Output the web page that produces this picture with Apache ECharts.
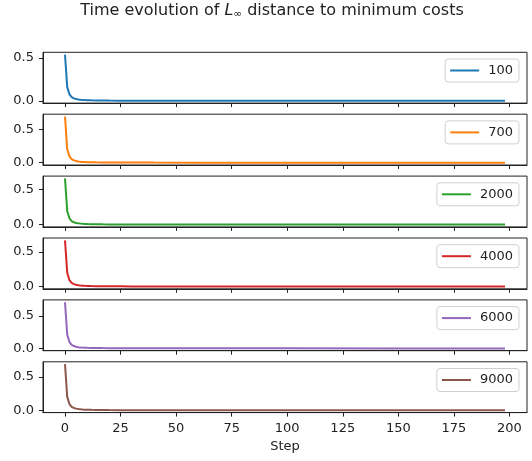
<!DOCTYPE html>
<html>
<head>
<meta charset="utf-8">
<script src="https://cdn.jsdelivr.net/npm/echarts@6/dist/echarts.min.js"></script>
<style>html,body{margin:0;padding:0;background:#fff}#c{width:532px;height:461px}</style>
</head>
<body>
<div id="c"></div>
<script>
// Data
const steps = [0,1,2,3,4,5,6,7,8,9,10,12,14,17,20,25,30,40,60,100,150,198];
const seriesNames = ['100','700','2000','4000','6000','9000'];
const s100  = [0.54,0.16,0.075,0.042,0.028,0.02,0.015,0.012,0.01,0.008,0.007,0.0055,0.0045,0.0035,0.0028,0.002,0.0015,0.001,0.0007,0.0004,0.0003,0.0002];
const s700  = [0.69,0.2,0.095,0.053,0.035,0.025,0.019,0.015,0.012,0.01,0.0085,0.0068,0.0055,0.0042,0.0033,0.0024,0.0018,0.0012,0.0008,0.0005,0.0003,0.0002];
const s2000 = [0.66,0.19,0.09,0.05,0.033,0.024,0.018,0.014,0.011,0.0095,0.008,0.0064,0.0052,0.004,0.0031,0.0023,0.0017,0.0011,0.0007,0.0004,0.0003,0.0002];
const s4000 = [0.67,0.2,0.092,0.052,0.034,0.024,0.018,0.014,0.012,0.0098,0.0083,0.0066,0.0053,0.0041,0.0032,0.0023,0.0017,0.0011,0.0007,0.0004,0.0003,0.0002];
const s6000 = [0.71,0.21,0.098,0.055,0.036,0.026,0.019,0.015,0.012,0.01,0.0088,0.007,0.0056,0.0043,0.0034,0.0025,0.0018,0.0012,0.0008,0.0005,0.0003,0.0002];
const s9000 = [0.69,0.2,0.094,0.053,0.035,0.025,0.019,0.015,0.012,0.01,0.0085,0.0068,0.0055,0.0042,0.0033,0.0024,0.0018,0.0012,0.0008,0.0005,0.0003,0.0002];
const xTicks = [0,25,50,75,100,125,150,175,200];
const yTicks = [0,0.5];

const allSeries = [s100,s700,s2000,s4000,s6000,s9000];
const colors = ['#1f77b4','#ff7f0e','#2ca02c','#d62728','#9467bd','#8c564b'];
const FONT = 'DejaVu Sans';
const TXT = '#222';
const FS = 13;
const panelTop0 = 52.3, panelStep = 61.9, panelH = 50.8;
const xMin = -9.9, xMax = 207.9;

const grids = [], xAxes = [], yAxes = [], series = [], legends = [];
allSeries.forEach((vals, i) => {
  const top = panelTop0 + i * panelStep;
  grids.push({left: 43, right: 5, top: top, height: panelH, show: true,
    borderColor: '#222', borderWidth: 1, backgroundColor: 'transparent', containLabel: false});
  const last = i === allSeries.length - 1;
  xAxes.push({type: 'value', gridIndex: i, min: xMin, max: xMax,
    axisLine: {show: true, onZero: false, lineStyle: {color: '#222', width: 1}}, splitLine: {show: false},
    axisTick: {show: true, length: 4, lineStyle: {color: '#222', width: 1}, customValues: xTicks},
    axisLabel: {show: last, customValues: xTicks, color: TXT, fontFamily: FONT, fontSize: FS, margin: 10},
    name: last ? 'Step' : '', nameLocation: 'middle', nameGap: 28,
    nameTextStyle: {color: TXT, fontFamily: FONT, fontSize: FS}});
  const m = Math.max(...vals), lo = Math.min(...vals);
  const pad = 0.05 * (m - lo);
  yAxes.push({type: 'value', gridIndex: i, min: lo - pad, max: m + pad,
    axisLine: {show: true, onZero: false, lineStyle: {color: '#222', width: 1}}, splitLine: {show: false},
    axisTick: {show: true, length: 4, lineStyle: {color: '#222', width: 1}, customValues: yTicks},
    axisLabel: {customValues: yTicks, color: TXT, fontFamily: FONT, fontSize: FS, margin: 9,
      formatter: v => Number(v).toFixed(1)}});
  series.push({type: 'line', name: seriesNames[i], xAxisIndex: i, yAxisIndex: i,
    data: steps.map((s, k) => [s, vals[k]]), showSymbol: false, symbol: 'none',
    lineStyle: {color: colors[i], width: 2}, itemStyle: {color: colors[i]}, animation: false, clip: true});
  legends.push({data: [seriesNames[i]], right: 13, top: top + 6.7, orient: 'vertical',
    icon: 'rect', itemWidth: 29, itemHeight: 2, itemGap: 0,
    padding: [5, 6, 5, 5], borderColor: '#d0d0d0', borderWidth: 1, borderRadius: 3,
    backgroundColor: 'rgba(255,255,255,0.8)',
    textStyle: {color: TXT, fontFamily: FONT, fontSize: FS, padding: [0, 0, 0, 4]}});
});

const chart = echarts.init(document.getElementById('c'), null, {renderer: 'canvas'});
chart.setOption({
  animation: false,
  title: {
    text: '{a|Time evolution of }{i|L}{s|∞}{a| distance to minimum costs}',
    left: 272, textAlign: 'center', top: 2, padding: 0,
    textStyle: {fontWeight: 'normal', rich: {
      a: {fontFamily: FONT, fontSize: 16, fontWeight: 'normal', color: TXT},
      i: {fontFamily: FONT, fontSize: 16, fontWeight: 'normal', fontStyle: 'italic', color: TXT},
      s: {fontFamily: FONT, fontSize: 10.5, fontWeight: 'normal', color: TXT, padding: [7, 0, 0, 0]}
    }}
  },
  grid: grids, xAxis: xAxes, yAxis: yAxes, series: series, legend: legends
});
</script>
</body>
</html>
